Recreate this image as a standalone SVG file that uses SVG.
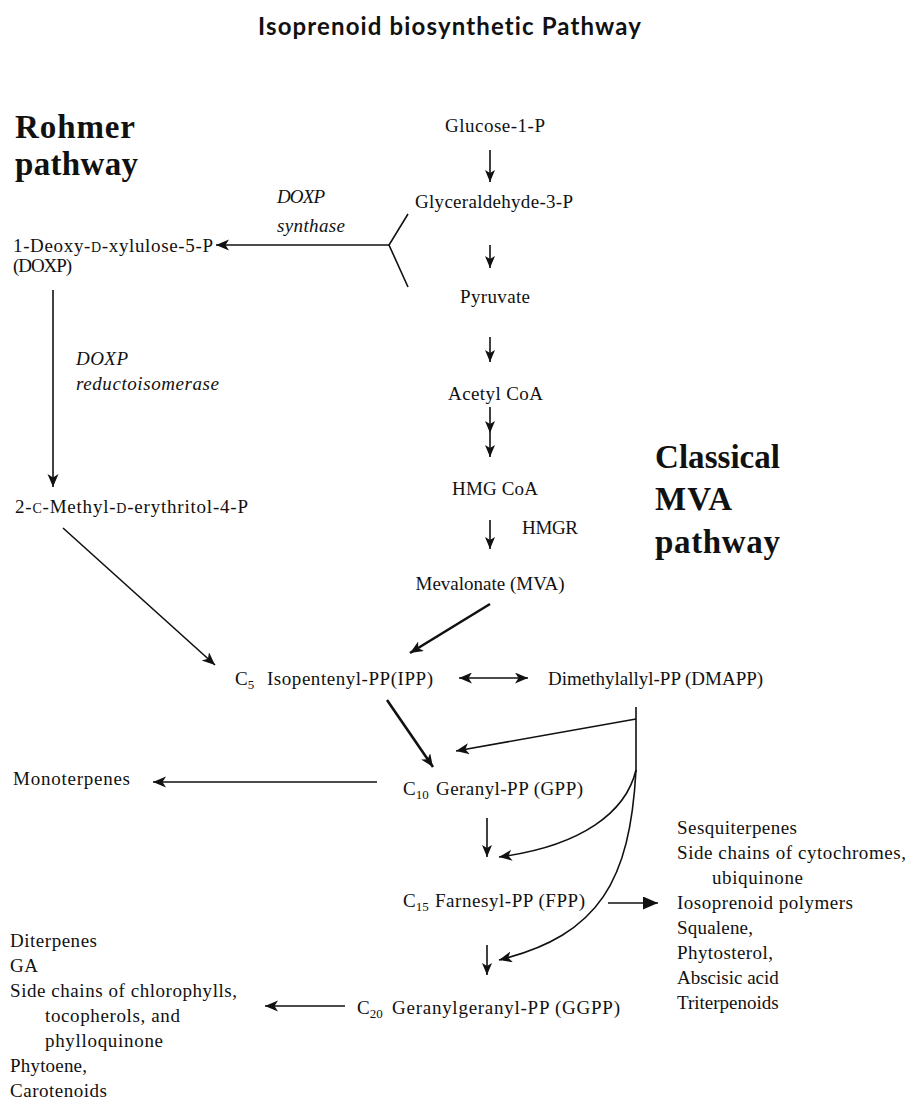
<svg xmlns="http://www.w3.org/2000/svg" width="908" height="1099" viewBox="0 0 908 1099">
  <style>
    text { font-family: "Liberation Serif", "Times New Roman", serif; font-size: 19px; fill: #111; }
    .title { font-family: Lato, "Open Sans", "Liberation Sans", sans-serif; font-weight: bold; font-size: 24px; font-variant-ligatures: none; }
    .big { font-weight: bold; font-size: 33px; }
    .it { font-style: italic; }
    .sc { font-size: 14px; }
    .sub { font-size: 13px; }
    .ln { fill: none; stroke: #111; stroke-width: 1.6; }
    .thick { fill: none; stroke: #111; stroke-width: 2.6; }
  </style>
  <defs>
    <marker id="ah" markerUnits="userSpaceOnUse" markerWidth="14" markerHeight="12" refX="13" refY="5.5" orient="auto">
      <path d="M0,0 L13,5.5 L0,11 L3.5,5.5 Z" fill="#111"/>
    </marker>
    <marker id="ahs" markerUnits="userSpaceOnUse" markerWidth="14" markerHeight="12" refX="12" refY="5" orient="auto">
      <path d="M0,0 L12,5 L0,10 L3,5 Z" fill="#111"/>
    </marker>
    <marker id="ahr" markerUnits="userSpaceOnUse" markerWidth="14" markerHeight="12" refX="1" refY="5.5" orient="auto">
      <path d="M14,0 L1,5.5 L14,11 L10.5,5.5 Z" fill="#111"/>
    </marker>
    <marker id="ahf" markerUnits="userSpaceOnUse" markerWidth="16" markerHeight="14" refX="15" refY="6.5" orient="auto">
      <path d="M0,0 L15,6.5 L0,13 Z" fill="#111"/>
    </marker>
  </defs>

  <rect width="908" height="1099" fill="#fff"/>

  <text class="title" x="258" y="35" textLength="383">Isoprenoid biosynthetic Pathway</text>

  <!-- pathway headings -->
  <g id="rohmer-heading">
    <text class="big" x="15" y="138" textLength="120">Rohmer</text>
    <text class="big" x="15" y="175" textLength="123">pathway</text>
  </g>
  <g id="mva-heading">
    <text class="big" x="655" y="468" textLength="125">Classical</text>
    <text class="big" x="655" y="510" textLength="77">MVA</text>
    <text class="big" x="655" y="553" textLength="125">pathway</text>
  </g>

  <!-- enzyme labels -->
  <g id="doxp-synthase">
    <text class="it" x="277" y="203" textLength="48">DOXP</text>
    <text class="it" x="277" y="232" textLength="68">synthase</text>
  </g>
  <g id="doxp-reductoisomerase">
    <text class="it" x="76" y="365" textLength="52">DOXP</text>
    <text class="it" x="76" y="390" textLength="143">reductoisomerase</text>
  </g>
  <g id="hmgr">
    <text x="522" y="534" textLength="56">HMGR</text>
  </g>

  <!-- central chain -->
  <g id="glucose"><text x="445" y="132" textLength="100">Glucose-1-P</text></g>
  <g id="g3p"><text x="415" y="208" textLength="158">Glyceraldehyde-3-P</text></g>
  <g id="pyruvate"><text x="460" y="303" textLength="70">Pyruvate</text></g>
  <g id="acetylcoa"><text x="448" y="400" textLength="95">Acetyl CoA</text></g>
  <g id="hmgcoa"><text x="452" y="495" textLength="86">HMG CoA</text></g>
  <g id="mva"><text x="490" y="590" text-anchor="middle">Mevalonate (MVA)</text></g>

  <!-- Rohmer branch -->
  <g id="doxp">
    <text x="13" y="252" textLength="200">1-Deoxy-<tspan class="sc">D</tspan>-xylulose-5-P</text>
    <text x="13" y="272" textLength="59">(DOXP)</text>
  </g>
  <g id="mep">
    <text x="15" y="513" textLength="233">2-<tspan class="sc">C</tspan>-Methyl-<tspan class="sc">D</tspan>-erythritol-4-P</text>
  </g>

  <!-- C5 units -->
  <g id="ipp">
    <text x="235" y="685">C<tspan class="sub" dy="4">5</tspan></text>
    <text x="267" y="685" textLength="166">Isopentenyl-PP(IPP)</text>
  </g>
  <g id="dmapp">
    <text x="548" y="685">Dimethylallyl-PP (DMAPP)</text>
  </g>

  <!-- prenyl diphosphates -->
  <g id="gpp">
    <text x="403" y="795">C<tspan class="sub" dy="4">10</tspan></text>
    <text x="436" y="795" textLength="147">Geranyl-PP (GPP)</text>
  </g>
  <g id="fpp">
    <text x="403" y="907">C<tspan class="sub" dy="4">15</tspan></text>
    <text x="435" y="907" textLength="150">Farnesyl-PP (FPP)</text>
  </g>
  <g id="ggpp">
    <text x="357" y="1014">C<tspan class="sub" dy="4">20</tspan></text>
    <text x="392" y="1014" textLength="228">Geranylgeranyl-PP (GGPP)</text>
  </g>

  <!-- products -->
  <g id="monoterpenes">
    <text x="13" y="785" textLength="117">Monoterpenes</text>
  </g>
  <g id="fpp-products">
    <text x="677" y="834" textLength="120">Sesquiterpenes</text>
    <text x="677" y="859" textLength="229">Side chains of cytochromes,</text>
    <text x="712" y="884" textLength="91">ubiquinone</text>
    <text x="677" y="909" textLength="176">Iosoprenoid polymers</text>
    <text x="677" y="934" textLength="76">Squalene,</text>
    <text x="677" y="959" textLength="96">Phytosterol,</text>
    <text x="677" y="984">Abscisic acid</text>
    <text x="677" y="1009">Triterpenoids</text>
  </g>
  <g id="ggpp-products">
    <text x="10" y="947" textLength="87">Diterpenes</text>
    <text x="10" y="972" textLength="28">GA</text>
    <text x="10" y="997" textLength="227">Side chains of chlorophylls,</text>
    <text x="45" y="1022" textLength="135">tocopherols, and</text>
    <text x="45" y="1047" textLength="118">phylloquinone</text>
    <text x="10" y="1072" textLength="77">Phytoene,</text>
    <text x="10" y="1097" textLength="97">Carotenoids</text>
  </g>

  <!-- connectors -->
  <g id="connectors">
    <!-- central chain -->
    <line class="ln" x1="490" y1="150" x2="490" y2="182" marker-end="url(#ahs)"/>
    <line class="ln" x1="490" y1="245" x2="490" y2="268" marker-end="url(#ahs)"/>
    <line class="ln" x1="490" y1="337" x2="490" y2="362" marker-end="url(#ahs)"/>
    <polyline class="ln" points="490,407 490,433 490,457" marker-mid="url(#ahs)" marker-end="url(#ahs)"/>
    <line class="ln" x1="490" y1="520" x2="490" y2="549" marker-end="url(#ahs)"/>

    <!-- DOXP synthase fork -->
    <polyline class="ln" points="408,214 389,245 408,287"/>
    <line class="ln" x1="389" y1="245" x2="216" y2="245" marker-end="url(#ah)"/>

    <!-- Rohmer branch -->
    <line class="ln" x1="53" y1="290" x2="53" y2="487" marker-end="url(#ah)"/>
    <line class="ln" x1="63" y1="528" x2="215" y2="665" marker-end="url(#ah)"/>

    <!-- MVA to IPP -->
    <line class="thick" x1="490" y1="604" x2="410" y2="653" marker-end="url(#ah)"/>

    <!-- IPP / DMAPP isomerisation -->
    <line class="ln" x1="459" y1="678" x2="528" y2="678" marker-start="url(#ahr)" marker-end="url(#ah)"/>

    <!-- IPP to GPP -->
    <line class="thick" x1="387" y1="700" x2="433" y2="767" marker-end="url(#ah)"/>

    <!-- DMAPP condensations -->
    <line class="ln" x1="636" y1="707" x2="636" y2="772"/>
    <line class="ln" x1="636" y1="719" x2="456" y2="751" marker-end="url(#ah)"/>
    <path class="ln" d="M636,770 C626,812 582,846 499,857" marker-end="url(#ah)"/>
    <path class="ln" d="M636,770 C630,880 600,935 499,960" marker-end="url(#ah)"/>

    <!-- chain elongation -->
    <line class="ln" x1="487" y1="818" x2="487" y2="857" marker-end="url(#ahs)"/>
    <line class="ln" x1="487" y1="945" x2="487" y2="975" marker-end="url(#ahs)"/>

    <!-- product branches -->
    <line class="ln" x1="377" y1="782" x2="153" y2="782" marker-end="url(#ah)"/>
    <line class="ln" x1="608" y1="903" x2="658" y2="903" marker-end="url(#ahf)"/>
    <line class="ln" x1="345" y1="1006" x2="265" y2="1006" marker-end="url(#ah)"/>
  </g>
</svg>
